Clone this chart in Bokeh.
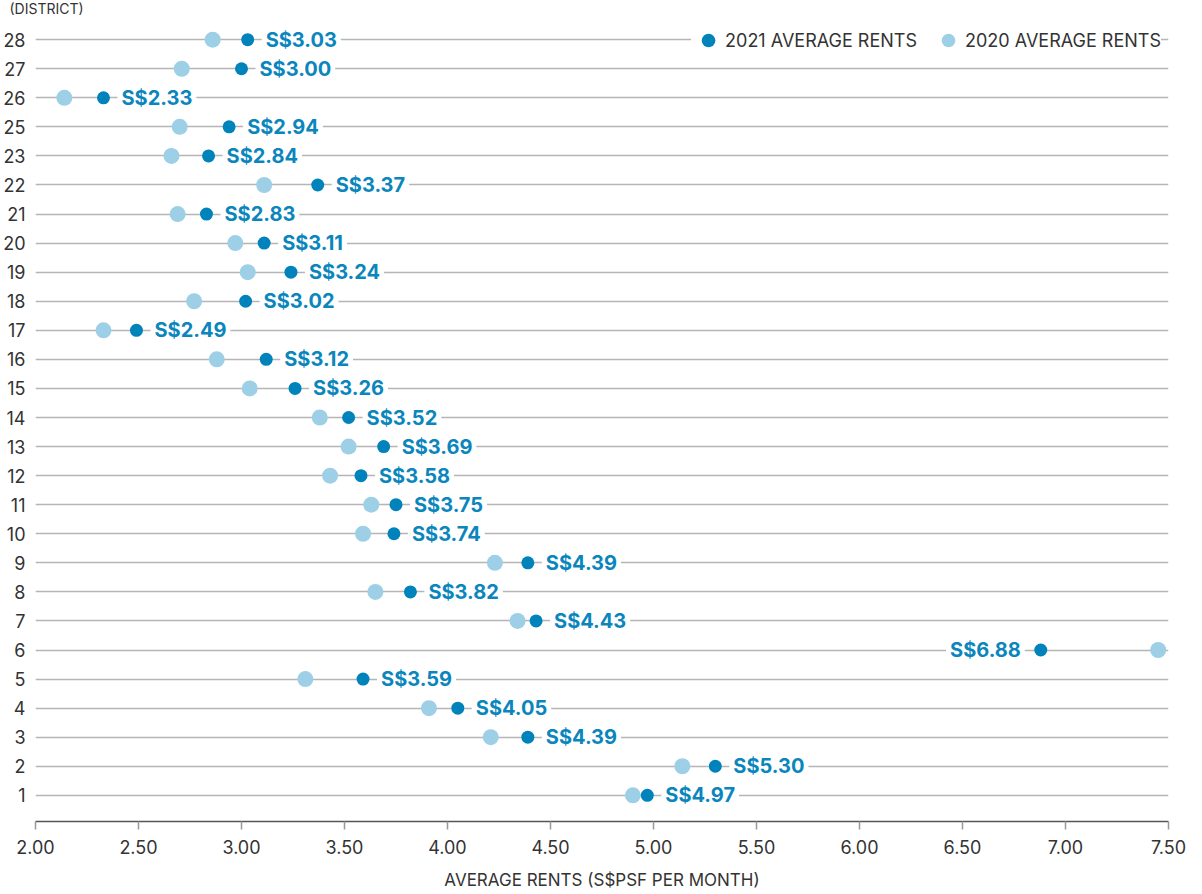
from bokeh.plotting import figure
from bokeh.models import (ColumnDataSource, FactorRange, FixedTicker, NumeralTickFormatter,
                          Legend, LegendItem, Range1d, Title)
from bokeh.core.properties import value
from bokeh.embed import file_html
from bokeh.resources import INLINE

# ---- data ----
districts = ["1", "2", "3", "4", "5", "6", "7", "8", "9", "10", "11", "12", "13", "14",
             "15", "16", "17", "18", "19", "20", "21", "22", "23", "25", "26", "27", "28"]
rents_2021 = [4.97, 5.30, 4.39, 4.05, 3.59, 6.88, 4.43, 3.82, 4.39, 3.74, 3.75, 3.58, 3.69, 3.52,
              3.26, 3.12, 2.49, 3.02, 3.24, 3.11, 2.83, 3.37, 2.84, 2.94, 2.33, 3.00, 3.03]
rents_2020 = [4.90, 5.14, 4.21, 3.91, 3.31, 7.45, 4.34, 3.65, 4.23, 3.59, 3.63, 3.43, 3.52, 3.38,
              3.04, 2.88, 2.33, 2.77, 3.03, 2.97, 2.69, 3.11, 2.66, 2.70, 2.14, 2.71, 2.86]
x_ticks = [2.0, 2.5, 3.0, 3.5, 4.0, 4.5, 5.0, 5.5, 6.0, 6.5, 7.0, 7.5]

DARK = "#0083bb"
LIGHT = "#9dcfe7"
LABEL_COL = "#0a86bd"
TEXT = "#333333"
FONT = "Inter"

labels = ["S$%.2f" % v for v in rents_2021]
right_side = [a >= b for a, b in zip(rents_2021, rents_2020)]
src = ColumnDataSource(dict(
    d=districts, r21=rents_2021, r20=rents_2020, lab=labels,
    align=["left" if r else "right" for r in right_side],
    off=[14 if r else -16 for r in right_side],
))

p = figure(
    y_range=FactorRange(factors=districts, range_padding=0.4, range_padding_units="absolute"),
    x_range=Range1d(2.0, 7.5),
    width=1186, height=892,
    min_border_left=26, min_border_right=18, min_border_top=0, min_border_bottom=4,
    output_backend="svg", toolbar_location=None,
)
p.outline_line_color = None
p.background_fill_color = "white"
p.border_fill_color = "white"

# "(DISTRICT)" caption above the plot, at the left
p.add_layout(Title(text="(DISTRICT)", align="left", offset=-26, standoff=-6,
                   text_font=FONT, text_font_size="14px", text_font_style="normal",
                   text_color=TEXT), "above")

# grid
p.xgrid.grid_line_color = None
p.ygrid.grid_line_color = "#b5b5b5"
p.ygrid.grid_line_width = 1.5

# axes
xa = p.xaxis[0]
xa.ticker = FixedTicker(ticks=x_ticks)
xa.formatter = NumeralTickFormatter(format="0.00")
xa.axis_line_color = "#555555"
xa.axis_line_width = 1.5
xa.major_tick_line_color = "#999999"
xa.major_tick_line_width = 1.5
xa.major_tick_out = 8
xa.major_tick_in = 0
xa.minor_tick_line_color = None
xa.major_label_text_font = FONT
xa.major_label_text_font_size = "18px"
xa.major_label_text_color = TEXT
xa.major_label_standoff = 10
xa.axis_label = "AVERAGE RENTS (S$PSF PER MONTH)"
xa.axis_label_text_font = FONT
xa.axis_label_text_font_size = "17px"
xa.axis_label_text_font_style = "normal"
xa.axis_label_text_color = TEXT
xa.axis_label_standoff = 13

ya = p.yaxis[0]
ya.axis_line_color = None
ya.major_tick_line_color = None
ya.minor_tick_line_color = None
ya.major_label_text_font = FONT
ya.major_label_text_font_size = "18px"
ya.major_label_text_color = TEXT
ya.major_label_standoff = 4

# dots
r20 = p.scatter("r20", "d", source=src, size=16, color=LIGHT, line_color=None)
r21 = p.scatter("r21", "d", source=src, size=13, color=DARK, line_color=None)

# value labels (white box hides the grid line behind the text)
p.text(x="r21", y="d", text="lab", source=src, x_offset="off",
       text_align="align", text_baseline="middle",
       text_font=value(FONT), text_font_size="20px", text_font_style="bold",
       text_color=LABEL_COL, background_fill_color="white", padding=4)

# legend
legend = Legend(items=[LegendItem(label="2021 AVERAGE RENTS", renderers=[r21]),
                       LegendItem(label="2020 AVERAGE RENTS", renderers=[r20])],
                location="top_right", orientation="horizontal",
                glyph_width=34, glyph_height=40, label_height=40,
                label_standoff=0, spacing=14, padding=6, margin=7,
                border_line_color=None, background_fill_color="white",
                background_fill_alpha=1.0,
                label_text_font=FONT, label_text_font_size="18px",
                label_text_color=TEXT)
p.add_layout(legend)

open("out.html", "w").write(file_html(p, INLINE))
